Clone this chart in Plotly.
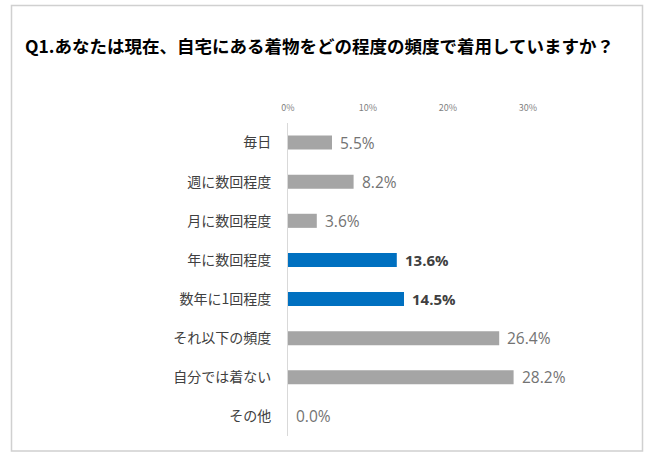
import plotly.graph_objects as go

categories = ["毎日", "週に数回程度", "月に数回程度", "年に数回程度", "数年に1回程度", "それ以下の頻度", "自分では着ない", "その他"]
values = [0.055, 0.082, 0.036, 0.136, 0.145, 0.264, 0.282, 0.0]
highlight = [False, False, False, True, True, False, False, False]
tick_vals = [0, 0.1, 0.2, 0.3]
tick_text = ["0%", "10%", "20%", "30%"]
title_text = "Q1.あなたは現在、自宅にある着物をどの程度の頻度で着用していますか？"

GRAY = "#a5a5a5"
BLUE = "#0070c0"
FONT = "Noto Sans CJK JP"

colors = [BLUE if h else GRAY for h in highlight]

W, H = 650, 454
L, R, T, B = 288, 82, 123, 18

fig = go.Figure(go.Bar(
    y=categories, x=values, orientation="h",
    marker=dict(color=colors, line=dict(width=0)),
    width=0.36, hoverinfo="skip",
))

annotations = []
for c, v, h in zip(categories, values, highlight):
    annotations.append(dict(
        x=v, y=c, xref="x", yref="y",
        text=f"<b>{v*100:.1f}%</b>" if h else f"{v*100:.1f}%",
        showarrow=False, xanchor="left", yanchor="middle", xshift=6,
        font=dict(size=15.5 if not h else 15, color="#404040" if h else "#737373", family="Open Sans"),
    ))

pw = W - L - R
ph = H - T - B
def px_x(p):
    return (p - L) / pw
def px_y(p):
    return 1 - (p - T) / ph

fig.update_layout(
    width=W, height=H,
    margin=dict(l=L, r=R, t=T, b=B),
    paper_bgcolor="white", plot_bgcolor="white",
    font=dict(family=FONT, color="#404040"),
    showlegend=False,
    annotations=annotations,
    title=dict(text=f"<b>{title_text}</b>", x=25 / W, xanchor="left", xref="container",
               y=1 - 47 / H, yanchor="middle", yref="container",
               font=dict(size=17.5, color="#000000", family=FONT)),
    xaxis=dict(range=[0, 0.35], side="top", tickvals=tick_vals, ticktext=tick_text,
               tickfont=dict(size=9, color="#7f7f7f", family=FONT),
               showgrid=False, zeroline=False, showline=False,
               ticks="outside", ticklen=7, tickcolor="rgba(0,0,0,0)", fixedrange=True),
    yaxis=dict(autorange="reversed", showgrid=False, zeroline=False,
               showline=True, linecolor="#d9d9d9", linewidth=1,
               ticks="outside", ticklen=13, tickcolor="rgba(0,0,0,0)",
               tickfont=dict(size=14, color="#404040", family=FONT), fixedrange=True),
    shapes=[dict(type="rect", xref="paper", yref="paper",
                 x0=px_x(11.5), x1=px_x(642.5), y0=px_y(451), y1=px_y(5.5),
                 line=dict(color="#d0d0d0", width=1.5), fillcolor="rgba(0,0,0,0)", layer="below")],
)

fig.write_html("out.html", config={"displayModeBar": False},
               post_script="document.body.style.margin='0';")
